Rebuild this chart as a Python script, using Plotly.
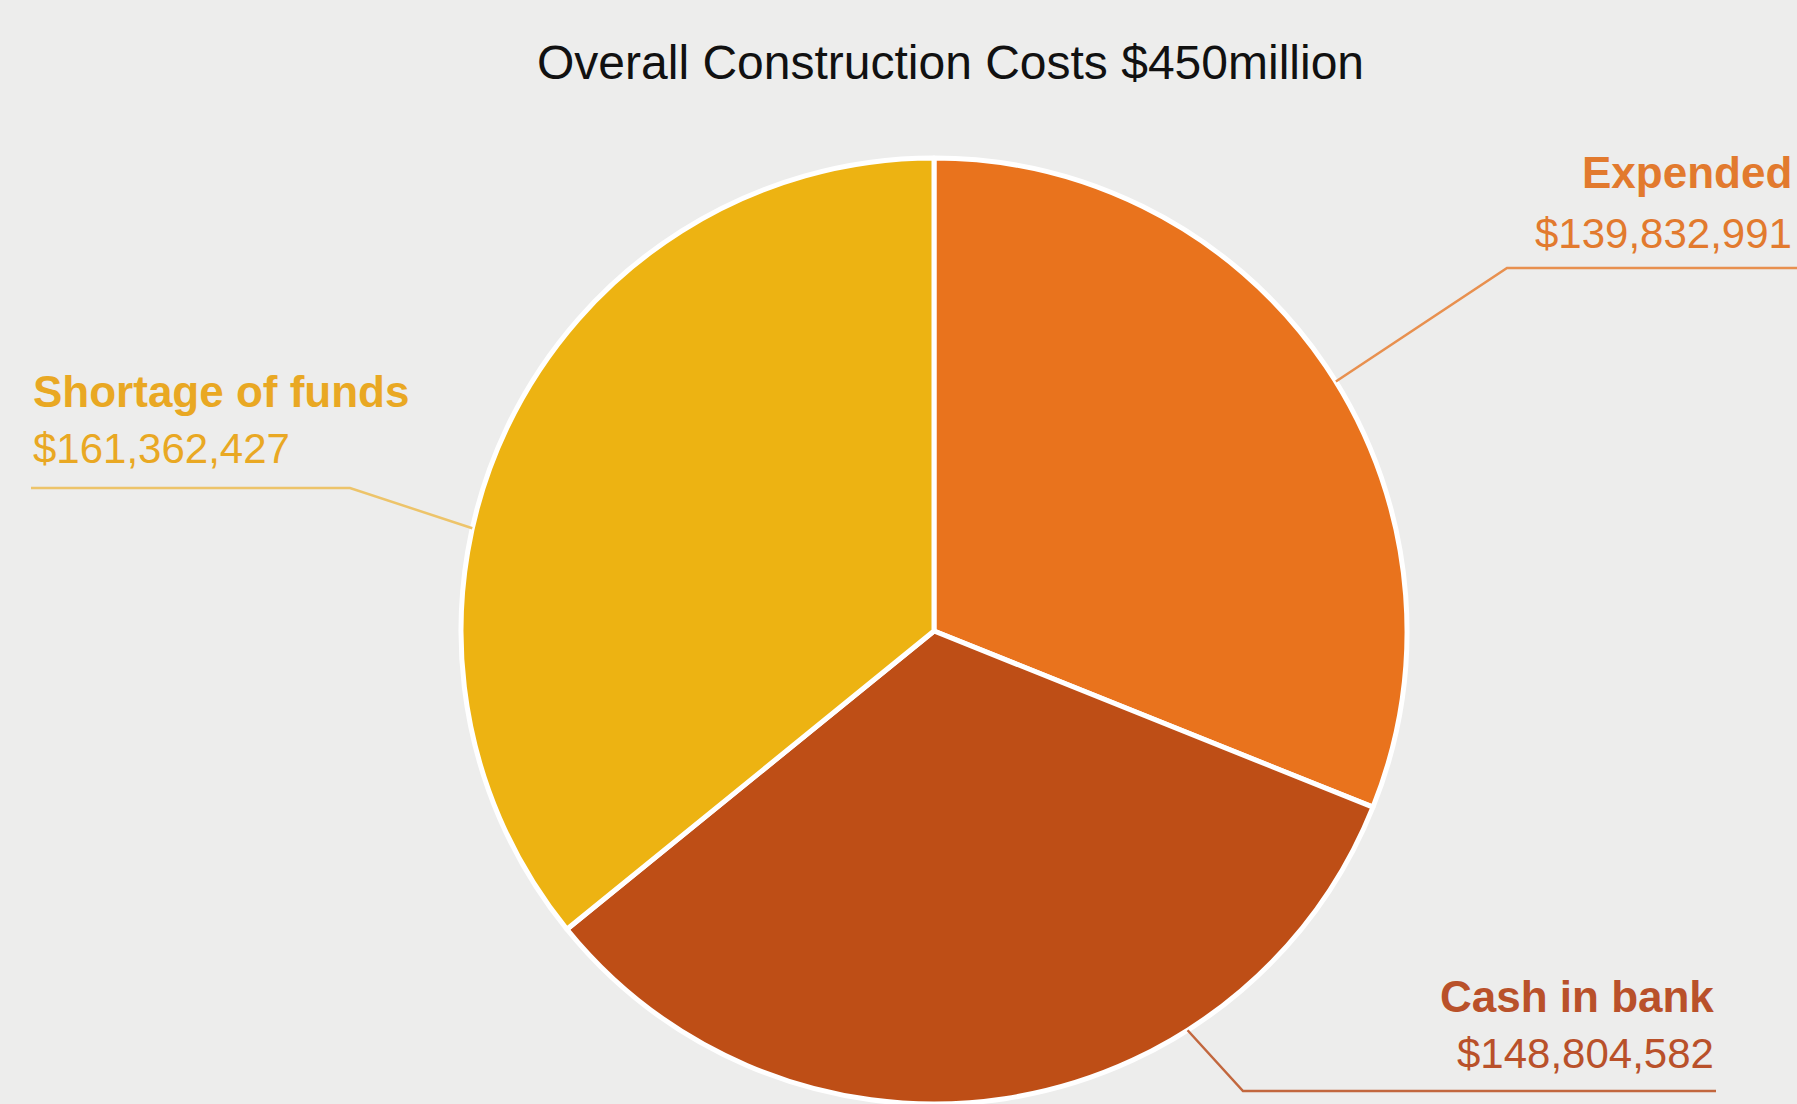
import math
import plotly.graph_objects as go

# ---- data ----
categories = ["Expended", "Cash in bank", "Shortage of funds"]
values = [139832991, 148804582, 161362427]
title_text = "Overall Construction Costs $450million"

# ---- style ----
slice_colors = ["#E9731D", "#BE4E16", "#EDB312"]
text_colors = ["#E27A2E", "#B9512A", "#E9A823"]
line_colors = ["#E8904F", "#C2673E", "#EDC46A"]
W, H = 1797, 1104
BG = "#EDEDEC"

# pie geometry (pixels, top-down)
pie_top = 158
dom_y = [0, (H - pie_top) / H]
cx = 934
half_w = 500
dom_x = [(cx - half_w) / W, (cx + half_w) / W]
r = min(half_w * 2, H - pie_top) / 2
cy = H - r

fig = go.Figure(go.Pie(
    labels=categories,
    values=values,
    sort=False,
    direction="clockwise",
    rotation=0,
    textinfo="none",
    hoverinfo="label+value",
    marker=dict(colors=slice_colors, line=dict(color="white", width=5)),
    domain=dict(x=dom_x, y=dom_y),
    showlegend=False,
))

def px2paper(x, y):
    return x / W, 1 - y / H

# leader-line anchor: fraction along each slice
anchor_frac = [0.52, 0.30, 0.40]
total = sum(values)
cum = 0
edge_pts = []
for v, f in zip(values, anchor_frac):
    a = 2 * math.pi * (cum + f * v) / total
    edge_pts.append((cx + r * math.sin(a), cy - r * math.cos(a)))
    cum += v

# label layout: (name x, anchor, name y, value y, elbow, line end)
label_layout = [
    dict(x=1794, xanchor="right", yn=172, yv=234, elbow=(1507, 268), end=(1797, 268)),
    dict(x=1716, xanchor="right", yn=996, yv=1053, elbow=(1243, 1091), end=(1716, 1091)),
    dict(x=31, xanchor="left", yn=391, yv=448, elbow=(350, 488), end=(31, 488)),
]

annotations = []
shapes = []
for i, (cat, val) in enumerate(zip(categories, values)):
    L = label_layout[i]
    xp, ynp = px2paper(L["x"], L["yn"])
    _, yvp = px2paper(L["x"], L["yv"])
    annotations.append(dict(
        text=cat, x=xp, y=ynp, xref="paper", yref="paper",
        xanchor=L["xanchor"], yanchor="middle", showarrow=False,
        font=dict(family="Liberation Sans", size=44, color=text_colors[i], weight="bold"),
    ))
    annotations.append(dict(
        text="${:,}".format(val), x=xp, y=yvp, xref="paper", yref="paper",
        xanchor=L["xanchor"], yanchor="middle", showarrow=False,
        font=dict(family="Liberation Sans", size=42, color=text_colors[i]),
    ))
    ex, ey = edge_pts[i]
    bx, by = L["elbow"]
    tx, ty = L["end"]
    p0 = px2paper(ex, ey)
    p1 = px2paper(bx, by)
    p2 = px2paper(tx, ty)
    shapes.append(dict(
        type="path", xref="paper", yref="paper",
        path=f"M {p0[0]} {p0[1]} L {p1[0]} {p1[1]} L {p2[0]} {p2[1]}",
        line=dict(color=line_colors[i], width=2.5),
    ))

tx_, ty_ = px2paper(950, 62)
annotations.append(dict(
    text=title_text, x=tx_, y=ty_, xref="paper", yref="paper",
    xanchor="center", yanchor="middle", showarrow=False,
    font=dict(family="Liberation Sans", size=48, color="#111111"),
))

fig.update_layout(
    width=W, height=H,
    margin=dict(l=0, r=0, t=0, b=0, pad=0),
    paper_bgcolor=BG, plot_bgcolor=BG,
    annotations=annotations, shapes=shapes,
)

fig.write_html(
    "out.html",
    config={"displayModeBar": False},
    post_script="document.body.style.margin='0';document.body.style.background='" + BG + "';",
)
